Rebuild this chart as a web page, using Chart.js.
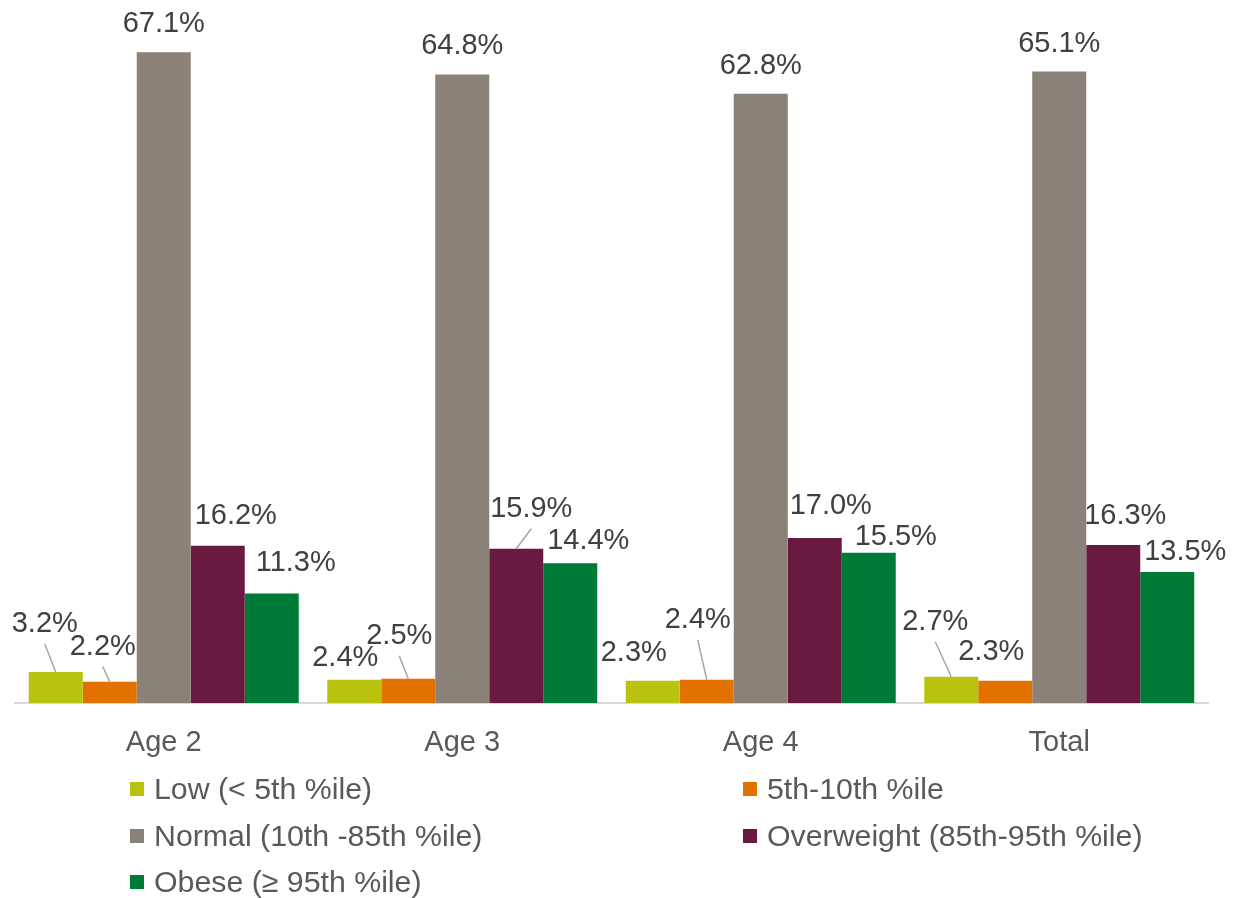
<!DOCTYPE html>
<html>
<head>
<meta charset="utf-8">
<script src="https://cdn.jsdelivr.net/npm/chart.js@4/dist/chart.umd.min.js"></script>
<style>
  html, body { margin: 0; padding: 0; background: #ffffff; }
  #wrap { position: relative; width: 1236px; height: 898px; }
  #legend { position: absolute; left: 0; top: 0; width: 1236px; height: 898px; pointer-events: none;
    font-family: "Liberation Sans", Arial, sans-serif; font-size: 30.3px; color: #595959; }
  .item { position: absolute; display: flex; align-items: center; white-space: nowrap; height: 34px; }
  .sw { width: 14px; height: 14px; margin-right: 10px; }
</style>
</head>
<body>
<div id="wrap">
  <canvas id="c" width="1236" height="898"></canvas>
  <div id="legend"></div>
</div>
<script>
// ---- data ----
const categories = ['Age 2', 'Age 3', 'Age 4', 'Total'];
const seriesNames = ['Low (< 5th %ile)', '5th-10th %ile', 'Normal (10th -85th %ile)', 'Overweight (85th-95th %ile)', 'Obese (\u2265 95th %ile)'];
const lowValues = [3.2, 2.4, 2.3, 2.7];
const p5to10Values = [2.2, 2.5, 2.4, 2.3];
const normalValues = [67.1, 64.8, 62.8, 65.1];
const overweightValues = [16.2, 15.9, 17.0, 16.3];
const obeseValues = [11.3, 14.4, 15.5, 13.5];

// ---- styles ----
const colors = ['#B9C30F', '#E37100', '#8A8178', '#6A1A41', '#007A37'];
// label offsets (dx, dy from bar top-centre) and leader-line flags, per series per category
const labelOffsets = [
  [[-11, -48, true], [-9, -22, false], [-19, -28, false], [-16, -55, true]],
  [[-7, -35, true], [-9, -43, true], [-9, -60, true], [-14, -29, false]],
  [[0, -28, false], [0, -28, false], [0, -28, false], [0, -28, false]],
  [[18, -30, false], [15, -40, true], [16, -32, false], [12, -29, false]],
  [[24, -30, false], [18, -22, false], [27, -16, false], [18, -20, false]]
];

const allValues = [lowValues, p5to10Values, normalValues, overweightValues, obeseValues];

const labelPlugin = {
  id: 'barLabels',
  afterDatasetsDraw(chart) {
    const ctx = chart.ctx;
    ctx.save();
    ctx.font = '29px "Liberation Sans", Arial, sans-serif';
    ctx.fillStyle = '#404040';
    ctx.textAlign = 'center';
    ctx.textBaseline = 'middle';
    chart.data.datasets.forEach((ds, i) => {
      const meta = chart.getDatasetMeta(i);
      meta.data.forEach((bar, j) => {
        const off = labelOffsets[i][j];
        const tx = bar.x + off[0];
        const ty = bar.y + off[1];
        const txt = ds.data[j].toFixed(1) + '%';
        if (off[2]) {
          ctx.save();
          ctx.strokeStyle = '#A6A6A6';
          ctx.lineWidth = 1.5;
          ctx.beginPath();
          ctx.moveTo(tx, ty + 20);
          ctx.lineTo(bar.x, bar.y);
          ctx.stroke();
          ctx.restore();
        }
        ctx.fillText(txt, tx, ty);
      });
    });
    ctx.restore();
  }
};

new Chart(document.getElementById('c'), {
  type: 'bar',
  data: {
    labels: categories,
    datasets: allValues.map((vals, i) => ({
      label: seriesNames[i],
      data: vals,
      backgroundColor: colors[i],
      borderWidth: 0,
      categoryPercentage: 0.9045,
      barPercentage: 1.0
    }))
  },
  options: {
    responsive: false,
    animation: false,
    layout: { padding: { left: 14.5, right: 27.5, top: 24, bottom: 0 } },
    plugins: { legend: { display: false }, tooltip: { enabled: false } },
    scales: {
      x: {
        grid: { display: false, drawTicks: false },
        border: { display: true, color: '#D9D9D9', width: 2 },
        ticks: { color: '#595959', font: { family: '"Liberation Sans", Arial, sans-serif', size: 29 }, padding: 23 },
        afterFit(scale) { scale.height = 195; }
      },
      y: {
        display: false,
        min: 0,
        max: 70
      }
    }
  },
  plugins: [labelPlugin]
});

// HTML legend in two columns
const legendPos = [[130, 789], [743, 789], [130, 836], [743, 836], [130, 882]];
const leg = document.getElementById('legend');
seriesNames.forEach((name, i) => {
  const d = document.createElement('div');
  d.className = 'item';
  d.style.left = legendPos[i][0] + 'px';
  d.style.top = (legendPos[i][1] - 17) + 'px';
  const sw = document.createElement('span');
  sw.className = 'sw';
  sw.style.background = colors[i];
  const t = document.createElement('span');
  t.textContent = name;
  d.appendChild(sw);
  d.appendChild(t);
  leg.appendChild(d);
});
</script>
</body>
</html>
